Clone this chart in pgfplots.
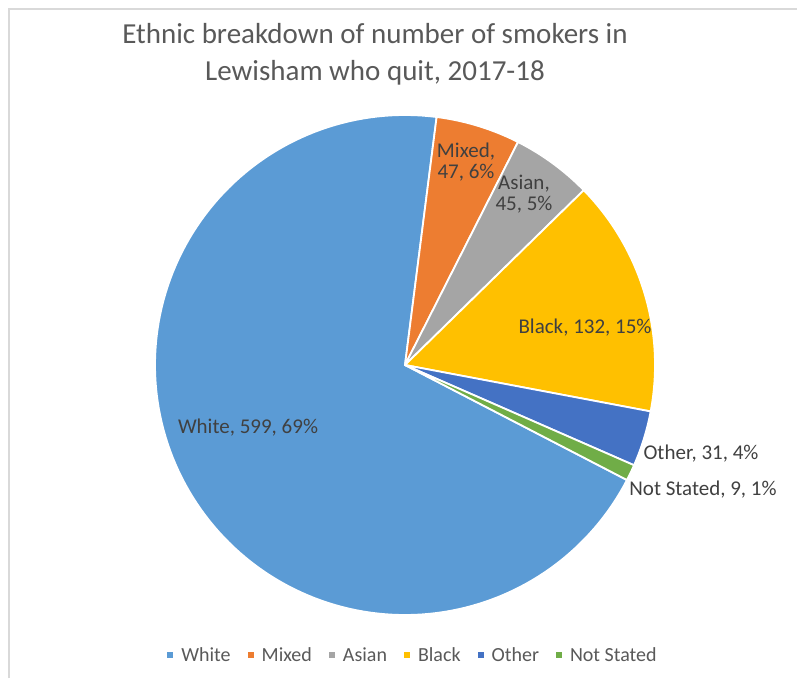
\documentclass[border=0pt]{standalone}
\usepackage{pgfplots}
\pgfplotsset{compat=1.18}
\usepackage{fontspec}
\setmainfont{Carlito}
\definecolor{cWhite}{HTML}{5B9BD5}
\definecolor{cMixed}{HTML}{ED7D31}
\definecolor{cAsian}{HTML}{A5A5A5}
\definecolor{cBlack}{HTML}{FFC000}
\definecolor{cOther}{HTML}{4472C4}
\definecolor{cNS}{HTML}{70AD47}
\definecolor{txt}{HTML}{595959}
\definecolor{lbl}{HTML}{404040}
\definecolor{frame}{HTML}{D9D9D9}
\begin{document}
\begin{tikzpicture}[x=1pt,y=1pt]
\path[use as bounding box] (0,0) rectangle (797,678);
\draw[color=frame, line width=1.5pt] (9,0) -- (9,669) -- (797,669);
\node[align=center, text=txt, font=\fontsize{29}{37}\selectfont] at (375,624) {Ethnic breakdown of number of smokers in\\Lewisham who quit, 2017-18};
\begin{axis}[at={(155pt,63pt)}, anchor=south west, scale only axis,
  width=500pt, height=500pt, xmin=-1, xmax=1, ymin=-1, ymax=1,
  hide axis, clip=false,
  legend image code/.code={\fill[#1,draw=none] (0pt,-3pt) rectangle (6pt,3pt);},
  legend entries={White,Mixed,Asian,Black,Other,Not Stated},
  legend columns=-1,
  legend style={at={(0.516,-0.08)}, anchor=center, draw=none, fill=none,
    font=\fontsize{20}{22}\selectfont, text=txt,
    /tikz/every odd column/.append style={column sep=6pt},
    /tikz/every even column/.append style={column sep=15pt}},
]
\xdef\curang{-27.4}
\foreach \v/\c in {599/cWhite,47/cMixed,45/cAsian,132/cBlack,31/cOther,9/cNS}{
  \pgfmathsetmacro{\endang}{\curang-\v/863*360}
  \edef\temp{\noexpand\addplot[fill=\c, draw=white, line width=1.8pt, line join=round, domain=\endang:\curang, samples=150] ({cos(x)},{sin(x)}) -- (axis cs:0,0) -- cycle;}
  \temp
  \xdef\curang{\endang}
}
\begin{scope}[every node/.style={text=lbl, font=\fontsize{21}{21}\selectfont, align=center}]
\node at (axis cs:-0.628,-0.252) {White, 599, 69\%};
\node at (axis cs:0.244,0.812) {Mixed,\\47, 6\%};
\node at (axis cs:0.476,0.684) {Asian,\\45, 5\%};
\node at (axis cs:0.72,0.148) {Black, 132, 15\%};
\node at (axis cs:1.184,-0.356) {Other, 31, 4\%};
\node at (axis cs:1.192,-0.5) {Not Stated, 9, 1\%};
\end{scope}
\end{axis}
\end{tikzpicture}
\end{document}
